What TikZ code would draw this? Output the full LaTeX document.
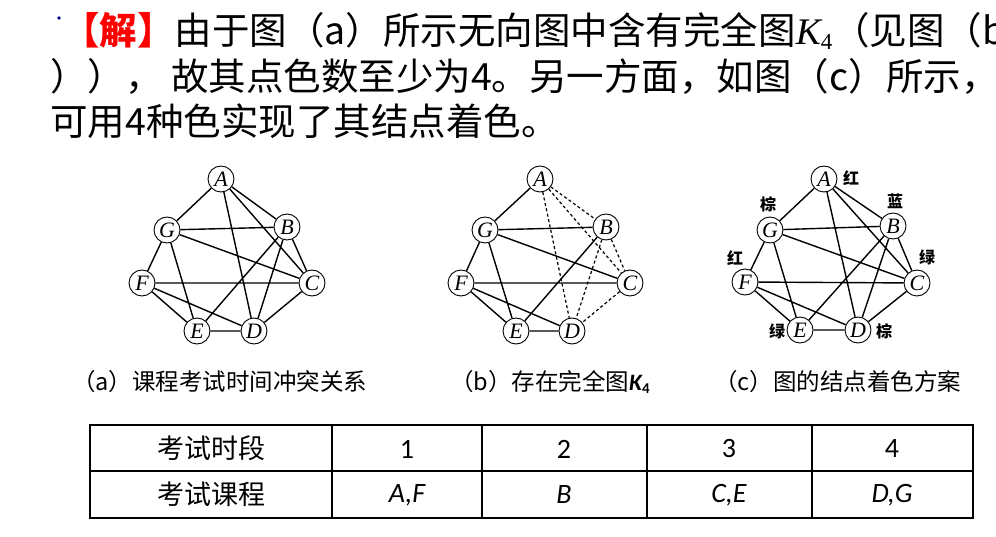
\documentclass[tikz,border=0pt]{standalone}
\usepackage{fontspec}
\usetikzlibrary{backgrounds}
\setmainfont{Liberation Serif}
\newfontfamily\cjk{Noto Sans CJK SC}
\newfontfamily\carl{Carlito}
\begin{document}
\begin{tikzpicture}[x=1pt,y=-1pt,
  vtx/.style={circle,draw,line width=0.9pt,fill=white,minimum size=26pt,inner sep=0pt,font=\fontsize{22}{22}\selectfont\itshape},
  ed/.style={line width=1.4pt},
  dd/.style={line width=1.2pt,dash pattern=on 3pt off 2.5pt},
  big/.style={anchor=west,inner sep=0pt,font=\cjk\fontsize{37.5}{37.5}\selectfont},
  capt/.style={anchor=west,inner sep=0pt,font=\cjk\fontsize{23.5}{23.5}\selectfont},
  col/.style={inner sep=0pt,font=\cjk\fontsize{16}{16}\selectfont\bfseries},
  cell/.style={inner sep=0pt,font=\cjk\fontsize{27}{27}\selectfont},
  cellm/.style={inner sep=0pt,font=\carl\fontsize{28}{28}\selectfont}]
\useasboundingbox (0,0) rectangle (996,537);
\fill[blue!50!black] (59,18) circle (1.8);
\node[big] (l1) at (62,31) {\textcolor{red}{\bfseries【解】}由于图（a）所示无向图中含有完全图{\rmfamily\itshape K}\raisebox{-5pt}{\rmfamily\fontsize{23}{23}\selectfont 4}（见图（b};
\node[big] (l2) at (50,76) {））， 故其点色数至少为4。另一方面，如图（c）所示，};
\node[big] (l3) at (50,121) {可用4种色实现了其结点着色。};
\node[vtx] (A) at (221,179) {A};
\node[vtx] (G) at (167,230) {G};
\node[vtx] (B) at (287,227) {B};
\node[vtx] (F) at (142,283) {F};
\node[vtx] (C) at (312,283) {C};
\node[vtx] (E) at (197,331) {E};
\node[vtx] (D) at (254,331) {D};
\node[vtx] (A2) at (540,179) {A};
\node[vtx] (G2) at (485,230) {G};
\node[vtx] (B2) at (606,227) {B};
\node[vtx] (F2) at (461,283) {F};
\node[vtx] (C2) at (630,283) {C};
\node[vtx] (E2) at (516,331) {E};
\node[vtx] (D2) at (572,331) {D};
\node[vtx] (A3) at (824,179) {A};
\node[vtx] (G3) at (770,230) {G};
\node[vtx] (B3) at (893,226) {B};
\node[vtx] (F3) at (745,282) {F};
\node[vtx] (C3) at (917,283) {C};
\node[vtx] (E3) at (800,330) {E};
\node[vtx] (D3) at (858,330) {D};
\begin{scope}[on background layer]
\foreach \s in {,3}{
  \draw[ed] (A\s)--(G\s) (A\s)--(B\s) (A\s)--(D\s) (A\s)--(C\s) (G\s)--(B\s) (G\s)--(C\s) (G\s)--(E\s) (G\s)--(F\s)
    (F\s)--(C\s) (F\s)--(D\s) (F\s)--(E\s) (E\s)--(D\s) (E\s)--(B\s) (B\s)--(D\s) (B\s)--(C\s) (C\s)--(D\s);}
\draw[ed] (A2)--(G2) (G2)--(B2) (G2)--(C2) (G2)--(E2) (G2)--(F2) (F2)--(C2) (F2)--(D2) (F2)--(E2) (E2)--(D2) (E2)--(B2);
\draw[dd] (A2)--(B2) (A2)--(C2) (A2)--(D2) (B2)--(C2) (B2)--(D2) (C2)--(D2);
\end{scope}
\node[col] (cA) at (851,178) {红};
\node[col] (cB) at (895,201) {蓝};
\node[col] (cG) at (768,204) {棕};
\node[col] (cC) at (927,257) {绿};
\node[col] (cF) at (735,258) {红};
\node[col] (cE) at (777,331) {绿};
\node[col] (cD) at (884,331) {棕};
\node[capt] (ca) at (72,382) {（a）课程考试时间冲突关系};
\node[capt] (cb) at (450,382) {（b）存在完全图{\carl\itshape\bfseries K}\raisebox{-3pt}{\carl\bfseries\fontsize{15}{15}\selectfont 4}};
\node[capt] (cc) at (714,382) {（c）图的结点着色方案};
\draw[line width=1.5pt] (90,425) rectangle (973,518);
\draw[line width=1.5pt] (90,471)--(973,471);
\foreach \x in {332,482,647,812} \draw[line width=1.5pt] (\x,425)--(\x,518);
\node[cell] (t1) at (211,448) {考试时段};
\node[cellm] (t2) at (407,449) {1};
\node[cellm] (t3) at (564,449) {2};
\node[cellm] (t4) at (729,449) {3};
\node[cellm] (t5) at (892,449) {4};
\node[cell] (u1) at (211,494) {考试课程};
\node[cellm] (u2) at (407,495) {\itshape A,F};
\node[cellm] (u3) at (564,495) {\itshape B};
\node[cellm] (u4) at (729,495) {\itshape C,E};
\node[cellm] (u5) at (892,495) {\itshape D,G};
\end{tikzpicture}
\end{document}
